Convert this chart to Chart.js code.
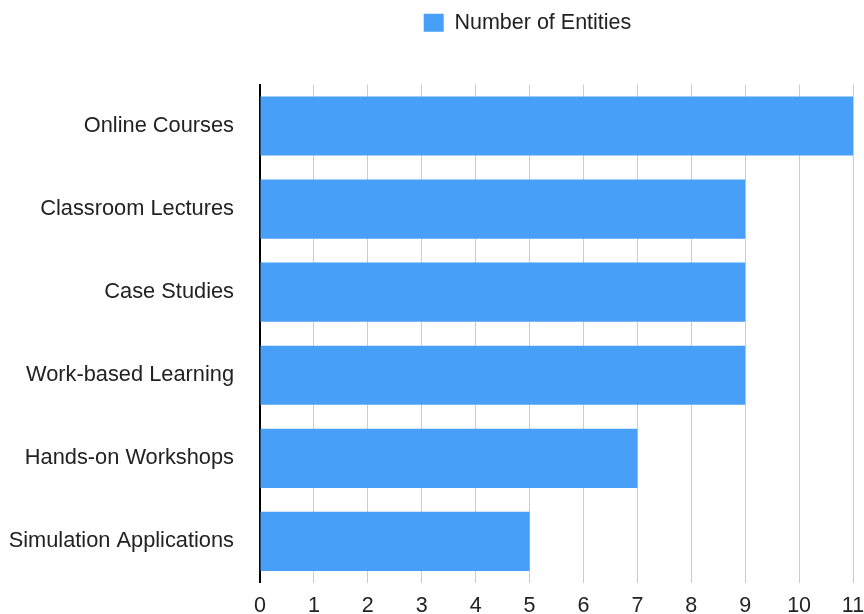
<!DOCTYPE html>
<html>
<head>
<meta charset="utf-8">
<script src="https://cdn.jsdelivr.net/npm/chart.js@4/dist/chart.umd.min.js"></script>
<style>
  html, body { margin: 0; padding: 0; background: #fff; }
  #wrap { width: 864px; height: 614px; }
</style>
</head>
<body>
<div id="wrap"><canvas id="entitiesChart"></canvas></div>
<script>
// learning methods and how many entities use each
const methods = ['Online Courses', 'Classroom Lectures', 'Case Studies', 'Work-based Learning', 'Hands-on Workshops', 'Simulation Applications'];
const entityCounts = [11, 9, 9, 9, 7, 5];
const xTicks = [0, 1, 2, 3, 4, 5, 6, 7, 8, 9, 10, 11];

Chart.defaults.font.family = '"Liberation Sans", Arial, sans-serif';
Chart.defaults.color = '#222';

// extra room under the legend, and nudge the legend toward the plot centre
const legendGap = {
  id: 'legendGap',
  beforeInit(chart) {
    const fit = chart.legend.fit;
    chart.legend.fit = function () {
      fit.bind(chart.legend)();
      this.height += 41;
    };
  },
  afterLayout(chart) {
    chart.legend.left += 101;
    chart.legend.right += 101;
  }
};

const ctx = document.getElementById('entitiesChart').getContext('2d');
new Chart(ctx, {
  type: 'bar',
  data: {
    labels: methods,
    datasets: [{
      label: 'Number of Entities',
      data: entityCounts,
      backgroundColor: '#479ff8',
      borderWidth: 0,
      categoryPercentage: 0.8,
      barPercentage: 0.89
    }]
  },
  options: {
    indexAxis: 'y',
    responsive: true,
    maintainAspectRatio: false,
    animation: false,
    layout: {
      padding: { top: 0, right: 11, bottom: 0, left: 0 }
    },
    plugins: {
      legend: {
        position: 'top',
        labels: {
          boxWidth: 20,
          boxHeight: 18,
          padding: 12,
          font: { size: 21.5 }
        }
      },
      tooltip: { enabled: false }
    },
    scales: {
      x: {
        min: 0,
        max: 11,
        afterBuildTicks(axis) {
          axis.ticks = xTicks.map(v => ({ value: v }));
        },
        afterFit(scale) {
          // let the last label run past the plot edge
          scale.paddingLeft = 0;
          scale.paddingRight = 0;
          scale.height = 30;
        },
        grid: {
          color: '#cccccc',
          lineWidth: 1,
          drawTicks: false
        },
        border: { display: false },
        ticks: {
          padding: 12,
          font: { size: 21.5, lineHeight: 1 }
        }
      },
      y: {
        afterFit(scale) {
          scale.width = 260;
        },
        grid: { display: false },
        border: { color: '#000', width: 2 },
        ticks: {
          padding: 18,
          font: { size: 21.8 }
        }
      }
    }
  },
  plugins: [legendGap]
});
</script>
</body>
</html>
